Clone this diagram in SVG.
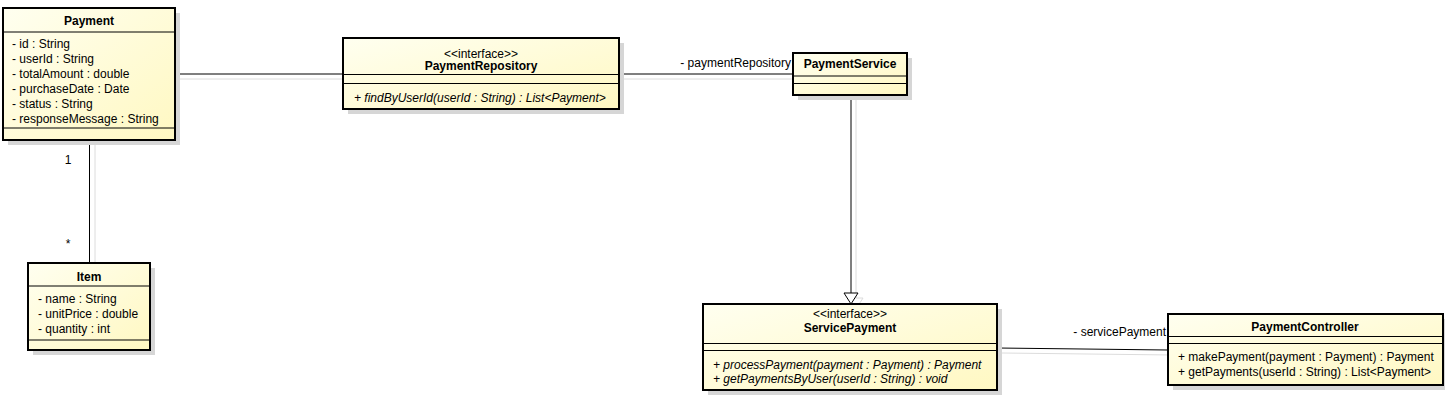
<svg xmlns="http://www.w3.org/2000/svg" width="1445" height="406" viewBox="0 0 1445 406">
<defs>
<linearGradient id="fill" x1="0" y1="0" x2="1" y2="1">
<stop offset="0" stop-color="#FFFFF0"/>
<stop offset="1" stop-color="#FFF8C2"/>
</linearGradient>
<style>
text{font-family:"Liberation Sans",Arial,sans-serif;font-size:12px;fill:#000}
.b{font-weight:bold;text-anchor:middle}
.c{text-anchor:middle}
.i{font-style:italic}
.e{text-anchor:end}
.box{fill:url(#fill);stroke:#000;stroke-width:2}
.sh{fill:#D6D6D6}
.sep{stroke:#000;stroke-width:1}
.ln{stroke:#000;stroke-width:1;fill:none}
.lsh{stroke:#DCDCDC;stroke-width:1;fill:none}
</style>
</defs>
<rect width="1445" height="406" fill="#fff"/>

<g id="connectors">
<line class="lsh" x1="180" y1="79" x2="348" y2="79"/>
<line class="lsh" x1="624" y1="79" x2="798" y2="79"/>
<line class="lsh" x1="95" y1="145" x2="95" y2="268"/>
<line class="lsh" x1="856" y1="99" x2="856" y2="298"/>
<polygon points="849,298 863,298 856,309" fill="#fff" stroke="#DCDCDC"/>
<line class="lsh" x1="1002" y1="353" x2="1173" y2="355"/>
<line class="ln" x1="175" y1="74" x2="343" y2="74"/>
<line class="ln" x1="619" y1="74" x2="793" y2="74"/>
<line class="ln" x1="89.5" y1="140" x2="89.5" y2="263"/>
<line class="ln" x1="851" y1="94" x2="851" y2="293"/>
<polygon points="844,293 858,293 851,304" fill="#fff" stroke="#000"/>
<line class="ln" x1="997" y1="348" x2="1168" y2="350"/>
<text x="68" y="164" class="c">1</text>
<text x="68" y="248" class="c">*</text>
<text x="791" y="67" class="e">- paymentRepository</text>
<text x="1166" y="336" class="e">- servicePayment</text>
</g>

<g id="Payment">
<rect class="sh" x="8" y="13" width="172" height="132"/>
<rect class="box" x="3" y="8" width="172" height="132"/>
<line class="sep" x1="3" y1="32" x2="175" y2="32"/>
<line class="sep" x1="3" y1="128" x2="175" y2="128"/>
<text x="89" y="25" class="b">Payment</text>
<text x="12" y="47.5">- id : String</text>
<text x="12" y="62.5">- userId : String</text>
<text x="12" y="77.5">- totalAmount : double</text>
<text x="12" y="92.5">- purchaseDate : Date</text>
<text x="12" y="107.5">- status : String</text>
<text x="12" y="122.5">- responseMessage : String</text>
</g>

<g id="Item">
<rect class="sh" x="33" y="268" width="122" height="87"/>
<rect class="box" x="28" y="263" width="122" height="87"/>
<line class="sep" x1="28" y1="286" x2="150" y2="286"/>
<line class="sep" x1="28" y1="340" x2="150" y2="340"/>
<text x="89" y="280.5" class="b">Item</text>
<text x="38" y="302.5">- name : String</text>
<text x="38" y="317.5">- unitPrice : double</text>
<text x="38" y="332.5">- quantity : int</text>
</g>

<g id="PaymentRepository">
<rect class="sh" x="348" y="43" width="276" height="71"/>
<rect class="box" x="343" y="38" width="276" height="71"/>
<line class="sep" x1="343" y1="74.5" x2="619" y2="74.5"/>
<line class="sep" x1="343" y1="83.5" x2="619" y2="83.5"/>
<text x="481" y="57.5" class="c">&lt;&lt;interface&gt;&gt;</text>
<text x="481" y="69.5" class="b">PaymentRepository</text>
<text x="354" y="101.5" class="i">+ findByUserId(userId : String) : List&lt;Payment&gt;</text>
</g>

<g id="PaymentService">
<rect class="sh" x="798" y="58" width="114" height="42"/>
<rect class="box" x="793" y="53" width="114" height="42"/>
<line class="sep" x1="793" y1="76" x2="907" y2="76"/>
<line class="sep" x1="793" y1="83.5" x2="907" y2="83.5"/>
<text x="850" y="67.5" class="b">PaymentService</text>
</g>

<g id="ServicePayment">
<rect class="sh" x="708" y="309" width="294" height="86"/>
<rect class="box" x="703" y="304" width="294" height="86"/>
<line class="sep" x1="703" y1="343.5" x2="997" y2="343.5"/>
<line class="sep" x1="703" y1="350.5" x2="997" y2="350.5"/>
<text x="850" y="317.5" class="c">&lt;&lt;interface&gt;&gt;</text>
<text x="850" y="332" class="b">ServicePayment</text>
<text x="713" y="368.5" class="i">+ processPayment(payment : Payment) : Payment</text>
<text x="713" y="383" class="i">+ getPaymentsByUser(userId : String) : void</text>
</g>

<g id="PaymentController">
<rect class="sh" x="1173" y="319" width="275" height="71"/>
<rect class="box" x="1168" y="314" width="275" height="71"/>
<line class="sep" x1="1168" y1="336.5" x2="1443" y2="336.5"/>
<line class="sep" x1="1168" y1="343.5" x2="1443" y2="343.5"/>
<text x="1305" y="330.5" class="b">PaymentController</text>
<text x="1178" y="361">+ makePayment(payment : Payment) : Payment</text>
<text x="1178" y="376">+ getPayments(userId : String) : List&lt;Payment&gt;</text>
</g>
</svg>
